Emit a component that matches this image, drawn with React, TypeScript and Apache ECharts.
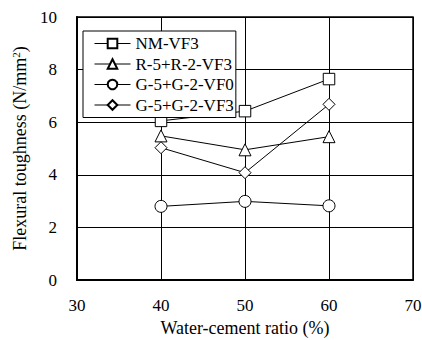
import React, { useEffect, useRef } from "react";
import * as echarts from "echarts";

const xValues = [40, 50, 60];
const seriesNames = ["NM-VF3", "R-5+R-2-VF3", "G-5+G-2-VF0", "G-5+G-2-VF3"];
const nmVF3 = [6.05, 6.42, 7.64];
const rVF3 = [5.48, 4.95, 5.45];
const gVF0 = [2.8, 2.99, 2.82];
const gVF3 = [5.03, 4.08, 6.68];
const symbols = ["rect", "triangle", "circle", "diamond"];
const symbolSizes = [11.5, 12, 12, 12];

const FONT = "'Liberation Serif', 'Times New Roman', serif";

export default function App() {
  const ref = useRef<HTMLDivElement>(null);
  useEffect(() => {
    if (!ref.current) return;
    const chart = echarts.init(ref.current, undefined, { renderer: "svg" });
    const all = [nmVF3, rVF3, gVF0, gVF3];
    chart.setOption({
      animation: false,
      backgroundColor: "#fff",
      textStyle: { fontFamily: FONT, color: "#000" },
      grid: {
        left: 77,
        right: 9,
        top: 17,
        bottom: 60,
        show: true,
        borderColor: "#000",
        borderWidth: 1.5,
        containLabel: false,
        outerBoundsMode: "none",
      },
      legend: {
        left: 83,
        top: 31,
        orient: "vertical",
        backgroundColor: "#fff",
        borderColor: "#000",
        borderWidth: 1,
        borderRadius: 0,
        padding: [4, 2, 4, 11],
        itemWidth: 36,
        itemHeight: 12,
        itemGap: 3.5,
        lineStyle: { width: 1, color: "#000" },
        textStyle: { fontFamily: FONT, fontSize: 17, color: "#000", lineHeight: 12 },
        data: seriesNames,
      },
      xAxis: {
        type: "value",
        min: 30,
        max: 70,
        interval: 10,
        name: "Water-cement ratio (%)",
        nameLocation: "middle",
        nameGap: 39,
        nameTextStyle: { fontFamily: FONT, fontSize: 18, color: "#000", lineHeight: 18 },
        axisLine: { lineStyle: { color: "#000", width: 2 } },
        axisTick: { show: false },
        axisLabel: { margin: 17, fontFamily: FONT, fontSize: 17, color: "#000" },
        splitLine: { show: true, lineStyle: { color: "#000", width: 1 } },
      },
      yAxis: {
        type: "value",
        min: 0,
        max: 10,
        interval: 2,
        name: "Flexural toughness (N/mm{sup|2})",
        nameLocation: "middle",
        nameGap: 35,
        nameTextStyle: {
          fontFamily: FONT,
          fontSize: 18,
          color: "#000",
          rich: { sup: { fontFamily: FONT, fontSize: 11, verticalAlign: "top", padding: [0, 0, 8, 0] } },
        },
        axisLine: { show: true, lineStyle: { color: "#000", width: 2 } },
        axisTick: { show: false },
        axisLabel: { margin: 20, fontFamily: FONT, fontSize: 17, color: "#000" },
        splitLine: { show: true, lineStyle: { color: "#000", width: 1 } },
      },
      series: seriesNames.map((name, i) => ({
        name,
        type: "line",
        data: xValues.map((x, j) => [x, all[i][j]]),
        symbol: symbols[i],
        symbolSize: symbolSizes[i],
        showAllSymbol: true,
        lineStyle: { color: "#000", width: 1 },
        itemStyle: { color: "#fff", borderColor: "#000", borderWidth: 1 },
        z: 3,
      })),
    });
    return () => chart.dispose();
  }, []);
  return (
    <div
      ref={ref}
      style={{ position: "absolute", left: 0, top: 0, width: 422, height: 340 }}
    />
  );
}
